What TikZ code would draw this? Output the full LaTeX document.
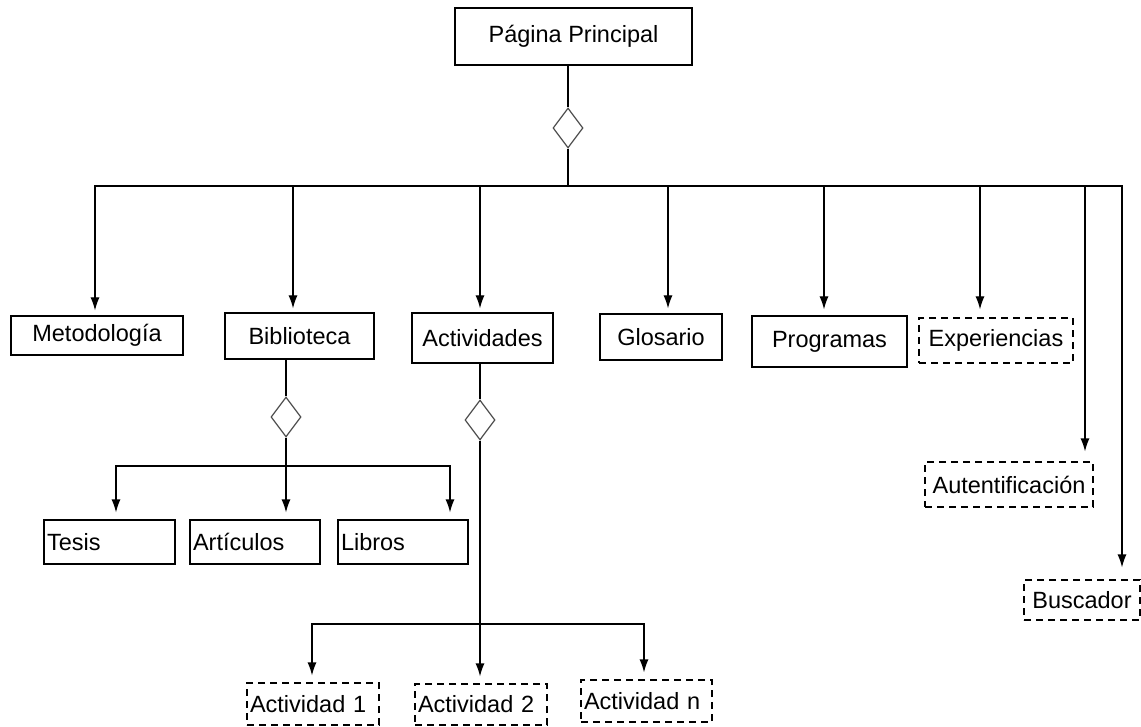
\documentclass[tikz,border=0pt]{standalone}
\usepackage{fontspec}
\setmainfont{Liberation Sans}
\usetikzlibrary{arrows.meta,shapes.geometric}
\begin{document}
\begin{tikzpicture}[x=1pt,y=-1pt,
        box/.style={draw, line width=1.2pt, inner sep=3pt, font=\fontsize{23.5}{27}\selectfont},
        dbox/.style={box, dash pattern=on 7pt off 5pt},
        izq/.style={align=left, text width=#1},
        rombo/.style={diamond, draw=black!70, line width=1.2pt, minimum width=30pt, minimum height=40pt, inner sep=0pt},
        linea/.style={line width=1.2pt},
        flecha/.style={line width=1.2pt, -{Latex[length=13pt,width=9pt]}}]

        \useasboundingbox (0,0) rectangle (1141,727);

        % pagina principal
        \node[box, minimum width=237pt, minimum height=57pt] (pp) at (573.5,36.5) {Página Principal};
        \node[rombo] (dpp) at (568,128) {};
        \coordinate (jpp) at (568,186);
        \draw[linea] (pp.south -| dpp) -- (dpp);
        \draw[linea] (dpp) -- (jpp);

        % primer nivel
        \node[box, minimum width=172pt, minimum height=39pt] (met) at (97,335.5) {Metodología};
        \node[box, minimum width=149pt, minimum height=46pt] (bib) at (299.5,336) {Biblioteca};
        \node[box, minimum width=141pt, minimum height=50pt] (act) at (482.5,338) {Actividades};
        \node[box, minimum width=122pt, minimum height=46pt] (glo) at (661,337) {Glosario};
        \node[box, minimum width=155pt, minimum height=51pt] (pro) at (829.5,341.5) {Programas};
        \node[dbox, minimum width=154pt, minimum height=45pt] (exp) at (996,340.5) {Experiencias};
        \node[dbox, minimum width=168pt, minimum height=45pt] (aut) at (1009,484.5) {Autentificación};
        \node[dbox, minimum width=116pt, minimum height=40pt] (bus) at (1082,600) {Buscador};

        \foreach \n/\x/\g in {met/95/5, bib/293/4, act/480/4, glo/668/5, pro/824/6, exp/980/8, aut/1085/10, bus/1122/12}{
            \coordinate (c\n) at (\x,186);
            \draw[flecha, shorten >=\g pt] (jpp) -| (c\n |- \n.north);
        }

        % biblioteca
        \node[rombo] (dbib) at (286,417) {};
        \coordinate (jbib) at (286,466);
        \draw[linea] (bib.south -| dbib) -- (dbib);
        \draw[linea] (dbib) -- (jbib);

        \node[box, izq=125pt, minimum height=44pt] (tes) at (109.5,542) {Tesis};
        \node[box, izq=124pt, minimum height=44pt] (art) at (255,542) {Artículos};
        \node[box, izq=124pt, minimum height=44pt] (lib) at (403,542) {Libros};

        \foreach \n/\x in {tes/116, art/286, lib/450}{
            \coordinate (c\n) at (\x,466);
            \draw[flecha, shorten >=7pt] (jbib) -| (c\n |- \n.north);
        }

        % actividades
        \node[rombo] (dact) at (480,420) {};
        \coordinate (jact) at (480,624);
        \draw[linea] (act.south -| dact) -- (dact);
        \draw[linea] (dact) -- (jact);

        \node[dbox, izq=126pt, minimum height=42pt] (a1) at (313,704) {Actividad 1};
        \node[dbox, izq=126pt, minimum height=41pt] (a2) at (481,704.5) {Actividad 2};
        \node[dbox, izq=125pt, minimum height=42pt] (an) at (646.5,701) {Actividad n};

        \foreach \n/\x in {a1/312, a2/480, an/644}{
            \coordinate (c\n) at (\x,624);
            \draw[flecha, shorten >=7pt] (jact) -| (c\n |- \n.north);
        }
\end{tikzpicture}
\end{document}
